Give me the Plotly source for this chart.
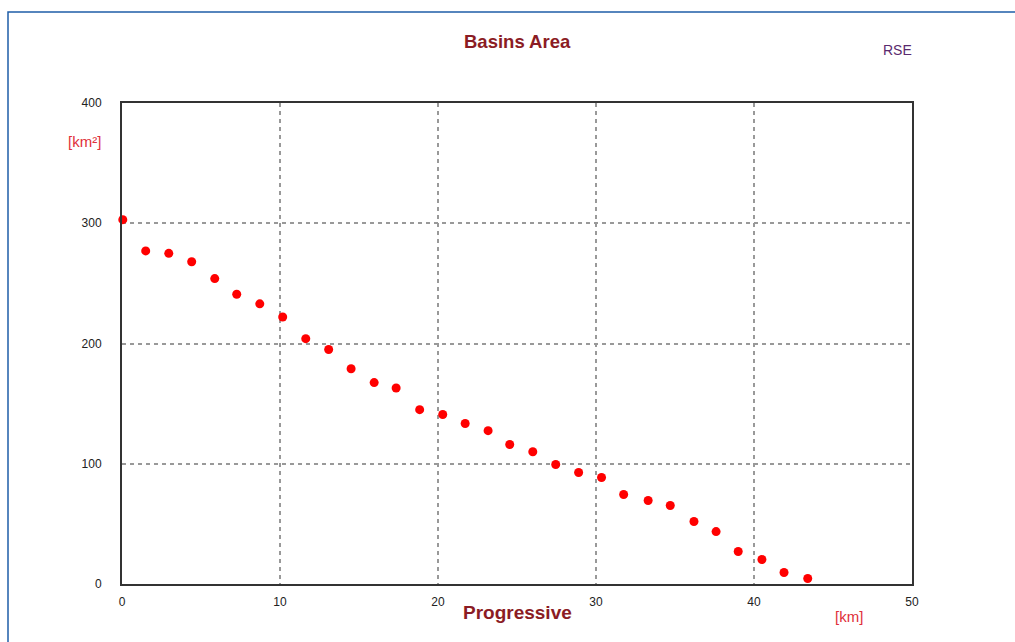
import plotly.graph_objects as go

# Data
progressive_km = [0.05, 1.5, 2.96, 4.41, 5.87, 7.26, 8.72, 10.17, 11.63, 13.08,
                  14.5, 15.96, 17.35, 18.84, 20.3, 21.72, 23.17, 24.54, 26.0, 27.45,
                  28.9, 30.35, 31.75, 33.3, 34.7, 36.2, 37.6, 39.0, 40.5, 41.9, 43.4]
basin_area_km2 = [303, 277, 275, 268, 254, 241, 233, 222, 204, 195,
                  179, 167.5, 163, 145, 141, 133.5, 127.5, 116, 110, 99.4,
                  92.7, 88.6, 74.4, 69.4, 65.3, 52, 43.6, 27, 20.4, 9.6, 4.6]
x_ticks = [0, 10, 20, 30, 40, 50]
y_ticks = [0, 100, 200, 300, 400]

FONT = "Liberation Sans, Arial, sans-serif"
W, H = 1015, 642
L, R, T, B = 122, 103, 103, 58
pw, ph = W - L - R, H - T - B

def px(x):
    return (x - L) / pw

def py(y):
    return (H - B - y) / ph

fig = go.Figure()
fig.add_trace(go.Scatter(
    x=progressive_km, y=basin_area_km2, mode="markers",
    marker=dict(color="#ff0000", size=9, line=dict(width=0)),
    showlegend=False, cliponaxis=False,
))

axis_common = dict(
    showline=True, linecolor="#333333", linewidth=2, mirror=True,
    showgrid=True, gridcolor="#999999", griddash="4px,4px", gridwidth=1.5,
    zeroline=False, ticks="", tickfont=dict(family=FONT, size=12, color="#222222"),
)

fig.update_layout(
    width=W, height=H,
    margin=dict(l=L, r=R, t=T, b=B, pad=0),
    paper_bgcolor="white", plot_bgcolor="white",
    xaxis=dict(range=[0, 50], tickvals=x_ticks, ticklabelstandoff=6, **axis_common),
    yaxis=dict(range=[0, 400], tickvals=y_ticks, ticklabelstandoff=16, **axis_common),
    shapes=[dict(type="rect", xref="paper", yref="paper",
                 x0=px(8), x1=px(1030), y0=py(660), y1=py(12),
                 line=dict(color="#1f5ea8", width=1.5), layer="below")],
    annotations=[
        dict(text="<b>Basins Area</b>", x=px(517), y=py(41), xref="paper", yref="paper",
             showarrow=False, xanchor="center", yanchor="middle",
             font=dict(family=FONT, size=18.5, color="#8b1c24")),
        dict(text="RSE", x=px(897), y=py(50), xref="paper", yref="paper",
             showarrow=False, xanchor="center", yanchor="middle",
             font=dict(family=FONT, size=14, color="#5a2a6e")),
        dict(text="[km²]", x=px(84), y=py(141), xref="paper", yref="paper",
             showarrow=False, xanchor="center", yanchor="middle",
             font=dict(family=FONT, size=15, color="#e0303a")),
        dict(text="<b>Progressive</b>", x=px(517), y=py(612), xref="paper", yref="paper",
             showarrow=False, xanchor="center", yanchor="middle",
             font=dict(family=FONT, size=19, color="#8b1c24")),
        dict(text="[km]", x=px(849), y=py(616), xref="paper", yref="paper",
             showarrow=False, xanchor="center", yanchor="middle",
             font=dict(family=FONT, size=15, color="#e0303a")),
    ],
)

fig.write_html("out.html")
